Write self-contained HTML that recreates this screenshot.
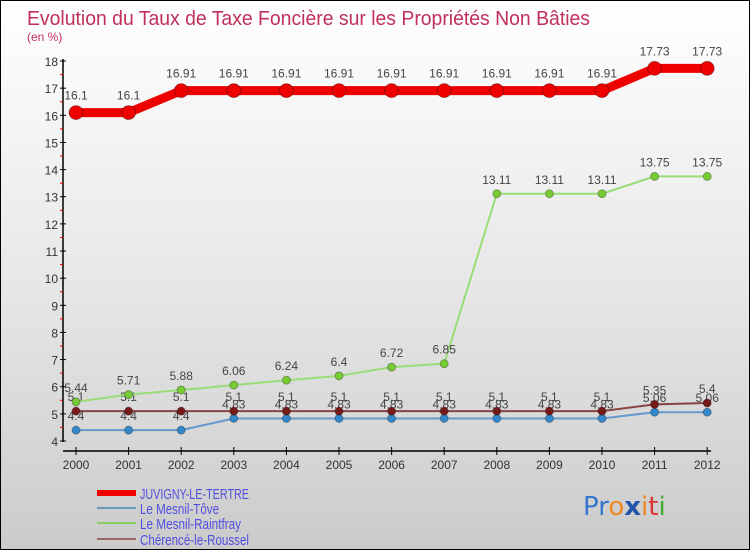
<!DOCTYPE html>
<html><head><meta charset="utf-8"><style>
body{margin:0;}
#c{width:748px;height:548px;border:1px solid #000;background:linear-gradient(#fff 0%,#e8e8e8 50%,#cbcbcb 100%);position:relative;overflow:hidden;font-family:"Liberation Sans",sans-serif;}
</style></head><body>
<div id="c">
<svg id="s" width="748" height="548" xmlns="http://www.w3.org/2000/svg" style="position:absolute;left:0;top:0">
<text x="26" y="24" font-size="20" fill="#c0305a" textLength="563" lengthAdjust="spacingAndGlyphs">Evolution du Taux de Taxe Foncière sur les Propriétés Non Bâties</text>
<text x="26" y="40" font-size="12" fill="#c0305a">(en %)</text>
<g id="axes"></g><g id="plot"></g>
<g>
<rect x="96" y="489" width="39" height="6" fill="#e00"/>
<text x="139" y="498" font-size="15" fill="#5050e0" textLength="109" lengthAdjust="spacingAndGlyphs">JUVIGNY-LE-TERTRE</text>
<rect x="96" y="506" width="39" height="2" fill="#6699bb"/>
<text x="139" y="513" font-size="15" fill="#5050e0" textLength="79" lengthAdjust="spacingAndGlyphs">Le Mesnil-Tôve</text>
<rect x="96" y="521" width="39" height="2" fill="#88cc66"/>
<text x="139" y="528" font-size="15" fill="#5050e0" textLength="101" lengthAdjust="spacingAndGlyphs">Le Mesnil-Raintfray</text>
<rect x="96" y="537" width="39" height="2" fill="#996666"/>
<text x="139" y="544" font-size="15" fill="#5050e0" textLength="109" lengthAdjust="spacingAndGlyphs">Chérencé-le-Roussel</text>
</g>
<g font-size="26" font-family="'DejaVu Sans',sans-serif">
<text x="582" y="514"><tspan fill="#3377cc">Pr</tspan><tspan fill="#ee8822">o</tspan><tspan fill="#2255aa" font-weight="bold">x</tspan><tspan fill="#ee8822">i</tspan><tspan fill="#dd3333">t</tspan><tspan fill="#44aa33">i</tspan></text>
</g>
</svg>
</div>
<script>
const years=[2000,2001,2002,2003,2004,2005,2006,2007,2008,2009,2010,2011,2012];
const yTicks=[4,5,6,7,8,9,10,11,12,13,14,15,16,17,18];
const juvigny=[16.1,16.1,16.91,16.91,16.91,16.91,16.91,16.91,16.91,16.91,16.91,17.73,17.73];
const mesnilTove=[4.4,4.4,4.4,4.83,4.83,4.83,4.83,4.83,4.83,4.83,4.83,5.06,5.06];
const mesnilRaintfray=[5.44,5.71,5.88,6.06,6.24,6.4,6.72,6.85,13.11,13.11,13.11,13.75,13.75];
const cherence=[5.1,5.1,5.1,5.1,5.1,5.1,5.1,5.1,5.1,5.1,5.1,5.35,5.4];
const NS="http://www.w3.org/2000/svg";
const xs=i=>75+i*52.6;
const ys=v=>440-(v-4)*27.14;
function mk(p,t,a){const e=document.createElementNS(NS,t);for(const k in a)e.setAttribute(k,a[k]);p.appendChild(e);return e;}
const ax=document.getElementById('axes'),pl=document.getElementById('plot');
let l=mk(ax,'line',{x1:62,y1:58,x2:62,y2:441,stroke:'#000','stroke-width':1.5});


l=mk(ax,'line',{x1:62,y1:450,x2:710,y2:450,stroke:'#000','stroke-width':1.5});


yTicks.forEach(v=>{
 mk(ax,'line',{x1:59,y1:ys(v),x2:65,y2:ys(v),stroke:'#000'});
 if(v<18)mk(ax,'line',{x1:59,y1:ys(v+0.5),x2:62,y2:ys(v+0.5),stroke:'#e00'});
 const t=mk(ax,'text',{x:57,y:ys(v)+5,'font-size':12,fill:'#333','text-anchor':'end'});t.textContent=v;
 
 
});
years.forEach((y,i)=>{
 mk(ax,'line',{x1:xs(i),y1:446,x2:xs(i),y2:454,stroke:'#000'});
 const t=mk(ax,'text',{x:xs(i),y:468,'font-size':12,fill:'#333','text-anchor':'middle'});t.textContent=y;
 
 
});
function series(d,color,w,r,fill,name){
 const g=mk(pl,'g',{});
 
 
 const p=mk(g,'polyline',{points:d.map((v,i)=>xs(i)+','+ys(v)).join(' '),fill:'none',stroke:color,'stroke-width':w,'stroke-linejoin':'round'});
 
 
 d.forEach((v,i)=>{
  const c=mk(g,'circle',{cx:xs(i),cy:ys(v),r:r,fill:fill,stroke:'rgba(0,0,0,0.3)','stroke-width':1});
  
  
  const t=mk(g,'text',{x:xs(i),y:ys(v)-(r+6),'font-size':12,fill:'#444','text-anchor':'middle'});t.textContent=v;
  
  
 });
}
series(mesnilTove,'#6699cc',2,4,'#3388cc','mesnil-tove');
series(cherence,'#884444',2,4,'#771a1a','cherence');
series(mesnilRaintfray,'#99dd77',2,4,'#77cc33','mesnil-raintfray');
series(juvigny,'#e00',9,7,'#e00','juvigny');
</script>
</body></html>
